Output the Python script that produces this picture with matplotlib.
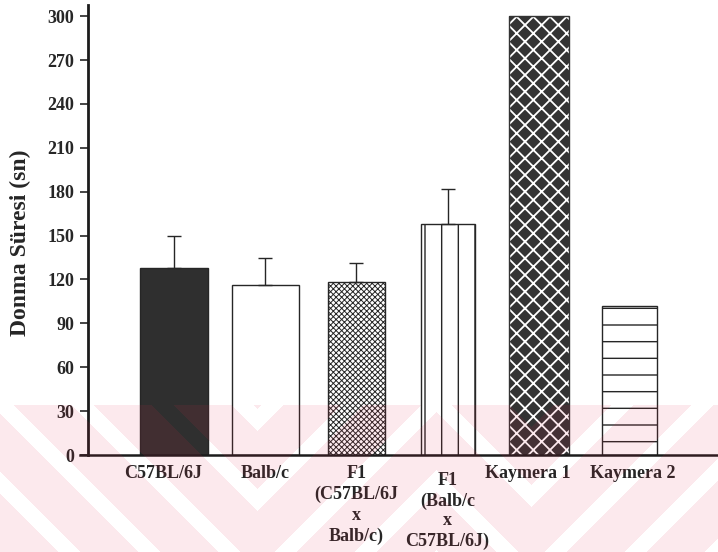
import numpy as np
import matplotlib
matplotlib.use("Agg")
import matplotlib.pyplot as plt

# --- data -------------------------------------------------------------
groups = ["C57BL/6J", "Balb/c", "F1\n(C57BL/6J\nx\nBalb/c)",
          "F1\n(Balb/c\nx\nC57BL/6J)", "Kaymera 1", "Kaymera 2"]
means = [128, 116, 118, 158, 300, 102]
err_up = [22, 19, 13, 24, 0, 0]
yticks = [0, 30, 60, 90, 120, 150, 180, 210, 240, 270, 300]

# --- style ------------------------------------------------------------
ink = "#262626"
bar_widths = [0.745, 0.735, 0.625, 0.592, 0.658, 0.603]
label_shift = [(-8, -7), (0, -7), (0, -7), (0, -12.5), (-8, -7), (2, -7)]  # points
label_spacing = [1.3, 1.3, 1.3, 1.22, 1.3, 1.3]
plt.rcParams["font.family"] = ["Liberation Serif", "DejaVu Serif"]
plt.rcParams["font.weight"] = "bold"

fig = plt.figure(figsize=(7.18, 5.52), dpi=100)
ax = fig.add_axes([88 / 718, (552 - 455) / 552, 1 - 88 / 718, 450 / 552])

x = np.arange(len(groups))


def hatch_lw(patches, lw):
    for p in patches:
        if hasattr(p, "set_hatch_linewidth"):
            p.set_hatch_linewidth(lw)


# C57BL/6J: solid dark
ax.bar(x[0], means[0], width=bar_widths[0], color="#2f2f2f", edgecolor=ink, linewidth=1)
# Balb/c: open
ax.bar(x[1], means[1], width=bar_widths[1], color="white", edgecolor=ink, linewidth=1)
# F1 (C57BL/6J x Balb/c): fine cross-hatch
b = ax.bar(x[2], means[2], width=bar_widths[2], color="white", edgecolor=ink,
           linewidth=1, hatch="xxxxxx")
hatch_lw(b, 0.7)
# F1 (Balb/c x C57BL/6J): vertical lines
b = ax.bar(x[3], means[3], width=bar_widths[3], color="white", edgecolor=ink,
           linewidth=1, hatch="|")
hatch_lw(b, 1.0)
# Kaymera 1: dark fill with white diagonal lattice
b = ax.bar(x[4], means[4], width=bar_widths[4], color="#333333", edgecolor="white",
           linewidth=0, hatch="xx")
hatch_lw(b, 1.3)
ax.bar(x[4], means[4], width=bar_widths[4], color="none", edgecolor="#333333", linewidth=1)
# Kaymera 2: horizontal lines
b = ax.bar(x[5], means[5], width=bar_widths[5], color="white", edgecolor=ink,
           linewidth=1, hatch="-")
hatch_lw(b, 1.0)

# upper error bars only
mask = np.array(err_up) > 0
ax.errorbar(x[mask], np.array(means)[mask],
            yerr=[np.zeros(mask.sum()), np.array(err_up)[mask]],
            fmt="none", ecolor=ink, elinewidth=1.0, capsize=5, capthick=1.0)

# --- axes -------------------------------------------------------------
ax.set_xlim(-0.943, 5.965)
ax.set_ylim(0, 307.6)
ax.set_yticks(yticks)
ax.set_yticklabels([str(v) for v in yticks], fontsize=13, color=ink)
ax.tick_params(axis="y", direction="out", length=6, width=1.2, pad=4, color=ink)

# category labels under the bars
ax.set_xticks(x)
ax.set_xticklabels([])
ax.tick_params(axis="x", length=0)
for xi, name, (dx, dy), ls in zip(x, groups, label_shift, label_spacing):
    ax.annotate(name, xy=(xi, 0), xycoords=("data", "axes fraction"),
                xytext=(dx, dy), textcoords="offset points",
                ha="center", va="top", multialignment="center",
                fontsize=13, color=ink, linespacing=ls, annotation_clip=False)

for side in ("top", "right"):
    ax.spines[side].set_visible(False)
ax.spines["left"].set_linewidth(2.0)
ax.spines["bottom"].set_linewidth(1.8)
ax.spines["left"].set_color("#1c1c1c")
ax.spines["bottom"].set_color("#1c1c1c")
ax.spines["bottom"].set_bounds(-1.03, 5.965)
ax.set_facecolor("none")

fig.text(20 / 718, 1 - 243 / 552, "Donma Süresi (sn)", rotation=90,
         ha="center", va="center", fontsize=17, color=ink)

# --- background stamp along the lower edge --------------------------
H, W = 552, 718
yy, xx = np.mgrid[0:H, 0:W]
offset = np.interp(xx, [0, 257, 436, 531, 718], [0, -257, -78, -173, 14])
phase = yy + offset
white_band = ((phase - 403 + 11) % 80) < 22
pink = (yy >= 405) & ~white_band
stamp = np.zeros((H, W, 4))
stamp[pink] = (0.91, 0.15, 0.30, 0.10)
fig.figimage(stamp, xo=0, yo=0, origin="upper", zorder=10)

fig.savefig("out.png", dpi=100)
